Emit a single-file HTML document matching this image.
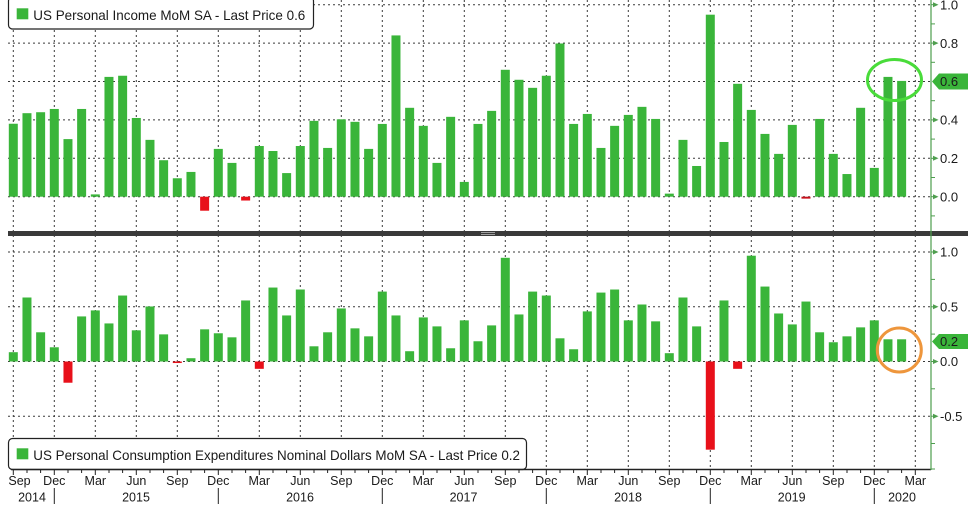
<!DOCTYPE html>
<html><head><meta charset="utf-8"><style>
html,body{margin:0;padding:0;background:#fff;}
svg{display:block;font-family:"Liberation Sans",Arial,sans-serif;}
</style></head><body>
<svg width="976" height="507" viewBox="0 0 976 507" xmlns="http://www.w3.org/2000/svg">
<rect x="0" y="0" width="976" height="507" fill="#fff"/>
<g stroke="#3a3a3a" stroke-width="1" stroke-dasharray="2 3">
<line x1="13.3" y1="0" x2="13.3" y2="469"/><line x1="54.3" y1="0" x2="54.3" y2="469"/><line x1="95.3" y1="0" x2="95.3" y2="469"/><line x1="136.3" y1="0" x2="136.3" y2="469"/><line x1="177.3" y1="0" x2="177.3" y2="469"/><line x1="218.3" y1="0" x2="218.3" y2="469"/><line x1="259.3" y1="0" x2="259.3" y2="469"/><line x1="300.3" y1="0" x2="300.3" y2="469"/><line x1="341.3" y1="0" x2="341.3" y2="469"/><line x1="382.3" y1="0" x2="382.3" y2="469"/><line x1="423.3" y1="0" x2="423.3" y2="469"/><line x1="464.3" y1="0" x2="464.3" y2="469"/><line x1="505.3" y1="0" x2="505.3" y2="469"/><line x1="546.3" y1="0" x2="546.3" y2="469"/><line x1="587.3" y1="0" x2="587.3" y2="469"/><line x1="628.3" y1="0" x2="628.3" y2="469"/><line x1="669.3" y1="0" x2="669.3" y2="469"/><line x1="710.3" y1="0" x2="710.3" y2="469"/><line x1="751.3" y1="0" x2="751.3" y2="469"/><line x1="792.3" y1="0" x2="792.3" y2="469"/><line x1="833.3" y1="0" x2="833.3" y2="469"/><line x1="874.3" y1="0" x2="874.3" y2="469"/><line x1="915.3" y1="0" x2="915.3" y2="469"/>
<line x1="8" y1="4.7" x2="931" y2="4.7"/><line x1="8" y1="43.1" x2="931" y2="43.1"/><line x1="8" y1="81.5" x2="931" y2="81.5"/><line x1="8" y1="119.9" x2="931" y2="119.9"/><line x1="8" y1="158.3" x2="931" y2="158.3"/><line x1="8" y1="196.7" x2="931" y2="196.7"/>
<line x1="8" y1="252" x2="931" y2="252"/><line x1="8" y1="306.8" x2="931" y2="306.8"/><line x1="8" y1="361.5" x2="931" y2="361.5"/><line x1="8" y1="416.2" x2="931" y2="416.2"/>
</g>
<g transform="translate(0 196.7) scale(1 -192)" fill="#3ab53a">
<rect x="8.8" y="0" width="9" height="0.38"/>
<rect x="22.47" y="0" width="9" height="0.435"/>
<rect x="36.13" y="0" width="9" height="0.44"/>
<rect x="49.8" y="0" width="9" height="0.457"/>
<rect x="63.47" y="0" width="9" height="0.30"/>
<rect x="77.13" y="0" width="9" height="0.457"/>
<rect x="90.8" y="0" width="9" height="0.012"/>
<rect x="104.47" y="0" width="9" height="0.624"/>
<rect x="118.13" y="0" width="9" height="0.63"/>
<rect x="131.8" y="0" width="9" height="0.41"/>
<rect x="145.47" y="0" width="9" height="0.296"/>
<rect x="159.13" y="0" width="9" height="0.19"/>
<rect x="172.8" y="0" width="9" height="0.096"/>
<rect x="186.47" y="0" width="9" height="0.129"/>
<rect x="200.13" y="-0.073" width="9" height="0.073" fill="#e8101a"/>
<rect x="213.8" y="0" width="9" height="0.249"/>
<rect x="227.47" y="0" width="9" height="0.176"/>
<rect x="241.13" y="-0.02" width="9" height="0.02" fill="#e8101a"/>
<rect x="254.8" y="0" width="9" height="0.264"/>
<rect x="268.47" y="0" width="9" height="0.238"/>
<rect x="282.13" y="0" width="9" height="0.123"/>
<rect x="295.8" y="0" width="9" height="0.264"/>
<rect x="309.47" y="0" width="9" height="0.395"/>
<rect x="323.13" y="0" width="9" height="0.254"/>
<rect x="336.8" y="0" width="9" height="0.403"/>
<rect x="350.47" y="0" width="9" height="0.39"/>
<rect x="364.13" y="0" width="9" height="0.249"/>
<rect x="377.8" y="0" width="9" height="0.379"/>
<rect x="391.47" y="0" width="9" height="0.84"/>
<rect x="405.13" y="0" width="9" height="0.463"/>
<rect x="418.8" y="0" width="9" height="0.369"/>
<rect x="432.47" y="0" width="9" height="0.176"/>
<rect x="446.13" y="0" width="9" height="0.416"/>
<rect x="459.8" y="0" width="9" height="0.077"/>
<rect x="473.47" y="0" width="9" height="0.379"/>
<rect x="487.13" y="0" width="9" height="0.447"/>
<rect x="500.8" y="0" width="9" height="0.661"/>
<rect x="514.47" y="0" width="9" height="0.609"/>
<rect x="528.13" y="0" width="9" height="0.567"/>
<rect x="541.8" y="0" width="9" height="0.63"/>
<rect x="555.47" y="0" width="9" height="0.798"/>
<rect x="569.13" y="0" width="9" height="0.379"/>
<rect x="582.8" y="0" width="9" height="0.431"/>
<rect x="596.47" y="0" width="9" height="0.254"/>
<rect x="610.13" y="0" width="9" height="0.369"/>
<rect x="623.8" y="0" width="9" height="0.426"/>
<rect x="637.47" y="0" width="9" height="0.468"/>
<rect x="651.13" y="0" width="9" height="0.405"/>
<rect x="664.8" y="0" width="9" height="0.016"/>
<rect x="678.47" y="0" width="9" height="0.296"/>
<rect x="692.13" y="0" width="9" height="0.16"/>
<rect x="705.8" y="0" width="9" height="0.948"/>
<rect x="719.47" y="0" width="9" height="0.285"/>
<rect x="733.13" y="0" width="9" height="0.588"/>
<rect x="746.8" y="0" width="9" height="0.452"/>
<rect x="760.47" y="0" width="9" height="0.327"/>
<rect x="774.13" y="0" width="9" height="0.223"/>
<rect x="787.8" y="0" width="9" height="0.374"/>
<rect x="801.47" y="-0.01" width="9" height="0.01" fill="#c8101a"/>
<rect x="815.13" y="0" width="9" height="0.405"/>
<rect x="828.8" y="0" width="9" height="0.223"/>
<rect x="842.47" y="0" width="9" height="0.118"/>
<rect x="856.13" y="0" width="9" height="0.463"/>
<rect x="869.8" y="0" width="9" height="0.15"/>
<rect x="883.47" y="0" width="9" height="0.624"/>
<rect x="897.13" y="0" width="9" height="0.603"/>
</g>
<g transform="translate(0 361.5) scale(1 -109.4)" fill="#3ab53a">
<rect x="8.8" y="0" width="9" height="0.085"/>
<rect x="22.47" y="0" width="9" height="0.585"/>
<rect x="36.13" y="0" width="9" height="0.267"/>
<rect x="49.8" y="0" width="9" height="0.13"/>
<rect x="63.47" y="-0.194" width="9" height="0.194" fill="#e8101a"/>
<rect x="77.13" y="0" width="9" height="0.412"/>
<rect x="90.8" y="0" width="9" height="0.467"/>
<rect x="104.47" y="0" width="9" height="0.348"/>
<rect x="118.13" y="0" width="9" height="0.603"/>
<rect x="131.8" y="0" width="9" height="0.285"/>
<rect x="145.47" y="0" width="9" height="0.503"/>
<rect x="159.13" y="0" width="9" height="0.248"/>
<rect x="172.8" y="-0.014" width="9" height="0.014" fill="#e8101a"/>
<rect x="186.47" y="0" width="9" height="0.03"/>
<rect x="200.13" y="0" width="9" height="0.294"/>
<rect x="213.8" y="0" width="9" height="0.258"/>
<rect x="227.47" y="0" width="9" height="0.221"/>
<rect x="241.13" y="0" width="9" height="0.558"/>
<rect x="254.8" y="-0.067" width="9" height="0.067" fill="#e8101a"/>
<rect x="268.47" y="0" width="9" height="0.676"/>
<rect x="282.13" y="0" width="9" height="0.421"/>
<rect x="295.8" y="0" width="9" height="0.658"/>
<rect x="309.47" y="0" width="9" height="0.139"/>
<rect x="323.13" y="0" width="9" height="0.267"/>
<rect x="336.8" y="0" width="9" height="0.485"/>
<rect x="350.47" y="0" width="9" height="0.303"/>
<rect x="364.13" y="0" width="9" height="0.23"/>
<rect x="377.8" y="0" width="9" height="0.639"/>
<rect x="391.47" y="0" width="9" height="0.421"/>
<rect x="405.13" y="0" width="9" height="0.094"/>
<rect x="418.8" y="0" width="9" height="0.403"/>
<rect x="432.47" y="0" width="9" height="0.321"/>
<rect x="446.13" y="0" width="9" height="0.121"/>
<rect x="459.8" y="0" width="9" height="0.376"/>
<rect x="473.47" y="0" width="9" height="0.185"/>
<rect x="487.13" y="0" width="9" height="0.33"/>
<rect x="500.8" y="0" width="9" height="0.948"/>
<rect x="514.47" y="0" width="9" height="0.43"/>
<rect x="528.13" y="0" width="9" height="0.639"/>
<rect x="541.8" y="0" width="9" height="0.603"/>
<rect x="555.47" y="0" width="9" height="0.212"/>
<rect x="569.13" y="0" width="9" height="0.112"/>
<rect x="582.8" y="0" width="9" height="0.458"/>
<rect x="596.47" y="0" width="9" height="0.63"/>
<rect x="610.13" y="0" width="9" height="0.658"/>
<rect x="623.8" y="0" width="9" height="0.376"/>
<rect x="637.47" y="0" width="9" height="0.521"/>
<rect x="651.13" y="0" width="9" height="0.367"/>
<rect x="664.8" y="0" width="9" height="0.076"/>
<rect x="678.47" y="0" width="9" height="0.585"/>
<rect x="692.13" y="0" width="9" height="0.321"/>
<rect x="705.8" y="-0.806" width="9" height="0.806" fill="#e8101a"/>
<rect x="719.47" y="0" width="9" height="0.558"/>
<rect x="733.13" y="-0.067" width="9" height="0.067" fill="#e8101a"/>
<rect x="746.8" y="0" width="9" height="0.967"/>
<rect x="760.47" y="0" width="9" height="0.685"/>
<rect x="774.13" y="0" width="9" height="0.439"/>
<rect x="787.8" y="0" width="9" height="0.339"/>
<rect x="801.47" y="0" width="9" height="0.548"/>
<rect x="815.13" y="0" width="9" height="0.267"/>
<rect x="828.8" y="0" width="9" height="0.176"/>
<rect x="842.47" y="0" width="9" height="0.23"/>
<rect x="856.13" y="0" width="9" height="0.312"/>
<rect x="869.8" y="0" width="9" height="0.376"/>
<rect x="883.47" y="0" width="9" height="0.203"/>
<rect x="897.13" y="0" width="9" height="0.203"/>
</g>
<rect x="8" y="231" width="960" height="5" fill="#3a3a3a"/>
<line x1="481" y1="232.6" x2="495" y2="232.6" stroke="#bbb" stroke-width="0.8"/>
<line x1="481" y1="234.4" x2="495" y2="234.4" stroke="#bbb" stroke-width="0.8"/>
<rect x="8.5" y="-3" width="305" height="32" rx="4" ry="4" fill="#fff" stroke="#222" stroke-width="1.2"/>
<rect x="16.7" y="8.3" width="11.6" height="11" fill="#3ab53a"/>
<text x="33.3" y="20" font-size="14" fill="#1a1a1a" textLength="272" lengthAdjust="spacingAndGlyphs">US Personal Income MoM SA - Last Price 0.6</text>
<rect x="8.5" y="438.5" width="518" height="31" rx="4" ry="4" fill="#fff" stroke="#222" stroke-width="1.2"/>
<rect x="16.7" y="448.3" width="11.6" height="11" fill="#3ab53a"/>
<text x="33.3" y="460" font-size="14" fill="#1a1a1a" textLength="486.7" lengthAdjust="spacingAndGlyphs">US Personal Consumption Expenditures Nominal Dollars MoM SA - Last Price 0.2</text>
<line x1="11" y1="469.5" x2="931" y2="469.5" stroke="#222" stroke-width="1.5"/>
<g stroke="#222" stroke-width="1">
<line x1="13.3" y1="469" x2="13.3" y2="475"/><line x1="27" y1="469" x2="27" y2="473"/><line x1="40.6" y1="469" x2="40.6" y2="473"/><line x1="54.3" y1="469" x2="54.3" y2="475"/><line x1="68" y1="469" x2="68" y2="473"/><line x1="81.6" y1="469" x2="81.6" y2="473"/><line x1="95.3" y1="469" x2="95.3" y2="475"/><line x1="109" y1="469" x2="109" y2="473"/><line x1="122.6" y1="469" x2="122.6" y2="473"/><line x1="136.3" y1="469" x2="136.3" y2="475"/><line x1="150" y1="469" x2="150" y2="473"/><line x1="163.6" y1="469" x2="163.6" y2="473"/><line x1="177.3" y1="469" x2="177.3" y2="475"/><line x1="191" y1="469" x2="191" y2="473"/><line x1="204.6" y1="469" x2="204.6" y2="473"/><line x1="218.3" y1="469" x2="218.3" y2="475"/><line x1="232" y1="469" x2="232" y2="473"/><line x1="245.6" y1="469" x2="245.6" y2="473"/><line x1="259.3" y1="469" x2="259.3" y2="475"/><line x1="273" y1="469" x2="273" y2="473"/><line x1="286.6" y1="469" x2="286.6" y2="473"/><line x1="300.3" y1="469" x2="300.3" y2="475"/><line x1="314" y1="469" x2="314" y2="473"/><line x1="327.6" y1="469" x2="327.6" y2="473"/><line x1="341.3" y1="469" x2="341.3" y2="475"/><line x1="355" y1="469" x2="355" y2="473"/><line x1="368.6" y1="469" x2="368.6" y2="473"/><line x1="382.3" y1="469" x2="382.3" y2="475"/><line x1="396" y1="469" x2="396" y2="473"/><line x1="409.6" y1="469" x2="409.6" y2="473"/><line x1="423.3" y1="469" x2="423.3" y2="475"/><line x1="437" y1="469" x2="437" y2="473"/><line x1="450.6" y1="469" x2="450.6" y2="473"/><line x1="464.3" y1="469" x2="464.3" y2="475"/><line x1="478" y1="469" x2="478" y2="473"/><line x1="491.6" y1="469" x2="491.6" y2="473"/><line x1="505.3" y1="469" x2="505.3" y2="475"/><line x1="519" y1="469" x2="519" y2="473"/><line x1="532.6" y1="469" x2="532.6" y2="473"/><line x1="546.3" y1="469" x2="546.3" y2="475"/><line x1="560" y1="469" x2="560" y2="473"/><line x1="573.6" y1="469" x2="573.6" y2="473"/><line x1="587.3" y1="469" x2="587.3" y2="475"/><line x1="601" y1="469" x2="601" y2="473"/><line x1="614.6" y1="469" x2="614.6" y2="473"/><line x1="628.3" y1="469" x2="628.3" y2="475"/><line x1="642" y1="469" x2="642" y2="473"/><line x1="655.6" y1="469" x2="655.6" y2="473"/><line x1="669.3" y1="469" x2="669.3" y2="475"/><line x1="683" y1="469" x2="683" y2="473"/><line x1="696.6" y1="469" x2="696.6" y2="473"/><line x1="710.3" y1="469" x2="710.3" y2="475"/><line x1="724" y1="469" x2="724" y2="473"/><line x1="737.6" y1="469" x2="737.6" y2="473"/><line x1="751.3" y1="469" x2="751.3" y2="475"/><line x1="765" y1="469" x2="765" y2="473"/><line x1="778.6" y1="469" x2="778.6" y2="473"/><line x1="792.3" y1="469" x2="792.3" y2="475"/><line x1="806" y1="469" x2="806" y2="473"/><line x1="819.6" y1="469" x2="819.6" y2="473"/><line x1="833.3" y1="469" x2="833.3" y2="475"/><line x1="847" y1="469" x2="847" y2="473"/><line x1="860.6" y1="469" x2="860.6" y2="473"/><line x1="874.3" y1="469" x2="874.3" y2="475"/><line x1="888" y1="469" x2="888" y2="473"/><line x1="901.6" y1="469" x2="901.6" y2="473"/><line x1="915.3" y1="469" x2="915.3" y2="475"/>
<line x1="54.3" y1="488" x2="54.3" y2="504"/><line x1="218.3" y1="488" x2="218.3" y2="504"/><line x1="382.3" y1="488" x2="382.3" y2="504"/><line x1="546.3" y1="488" x2="546.3" y2="504"/><line x1="710.3" y1="488" x2="710.3" y2="504"/><line x1="874.3" y1="488" x2="874.3" y2="504"/>
</g>
<g font-size="12.5" fill="#1a1a1a" text-anchor="middle">
<text x="19.5" y="485">Sep</text><text x="54.3" y="485">Dec</text><text x="95.3" y="485">Mar</text><text x="136.3" y="485">Jun</text><text x="177.3" y="485">Sep</text><text x="218.3" y="485">Dec</text><text x="259.3" y="485">Mar</text><text x="300.3" y="485">Jun</text><text x="341.3" y="485">Sep</text><text x="382.3" y="485">Dec</text><text x="423.3" y="485">Mar</text><text x="464.3" y="485">Jun</text><text x="505.3" y="485">Sep</text><text x="546.3" y="485">Dec</text><text x="587.3" y="485">Mar</text><text x="628.3" y="485">Jun</text><text x="669.3" y="485">Sep</text><text x="710.3" y="485">Dec</text><text x="751.3" y="485">Mar</text><text x="792.3" y="485">Jun</text><text x="833.3" y="485">Sep</text><text x="874.3" y="485">Dec</text><text x="915.3" y="485">Mar</text>
<text x="32" y="501.5">2014</text><text x="136" y="501.5">2015</text><text x="300" y="501.5">2016</text><text x="463.5" y="501.5">2017</text><text x="628" y="501.5">2018</text><text x="791.7" y="501.5">2019</text><text x="902" y="501.5">2020</text>
</g>
<line x1="931" y1="0" x2="931" y2="470" stroke="#4e9e4e" stroke-width="1.2"/>
<g stroke="#4e9e4e" stroke-width="1">
<line x1="931" y1="23.9" x2="935" y2="23.9"/><line x1="931" y1="62.3" x2="935" y2="62.3"/><line x1="931" y1="100.7" x2="935" y2="100.7"/><line x1="931" y1="139.1" x2="935" y2="139.1"/><line x1="931" y1="177.5" x2="935" y2="177.5"/><line x1="931" y1="215.9" x2="935" y2="215.9"/>
<line x1="931" y1="279.4" x2="935" y2="279.4"/><line x1="931" y1="334.1" x2="935" y2="334.1"/><line x1="931" y1="388.8" x2="935" y2="388.8"/><line x1="931" y1="443.5" x2="935" y2="443.5"/><line x1="931" y1="469" x2="935" y2="469"/>
<line x1="931" y1="4.7" x2="934" y2="4.7"/><line x1="931" y1="43.1" x2="934" y2="43.1"/><line x1="931" y1="119.9" x2="934" y2="119.9"/><line x1="931" y1="158.3" x2="934" y2="158.3"/><line x1="931" y1="196.7" x2="934" y2="196.7"/><line x1="931" y1="252" x2="934" y2="252"/><line x1="931" y1="306.8" x2="934" y2="306.8"/><line x1="931" y1="361.5" x2="934" y2="361.5"/><line x1="931" y1="416.2" x2="934" y2="416.2"/>
</g>
<g fill="#4e9e4e">
<polygon points="933,2.2 938.5,4.7 933,7.2"/><polygon points="933,40.6 938.5,43.1 933,45.6"/><polygon points="933,117.4 938.5,119.9 933,122.4"/><polygon points="933,155.8 938.5,158.3 933,160.8"/><polygon points="933,194.2 938.5,196.7 933,199.2"/>
<polygon points="933,249.5 938.5,252 933,254.5"/><polygon points="933,304.3 938.5,306.8 933,309.3"/><polygon points="933,359 938.5,361.5 933,364"/><polygon points="933,413.7 938.5,416.2 933,418.7"/>
</g>
<polygon points="932,81.5 939,73.5 968,73.5 968,89.5 939,89.5" fill="#3ab53a"/>
<polygon points="932,341.5 939,334 968,334 968,349 939,349" fill="#3ab53a"/>
<g font-size="13" fill="#1a1a1a">
<text x="940" y="9.5">1.0</text><text x="940" y="47.8">0.8</text><text x="940" y="86.2">0.6</text><text x="940" y="124.6">0.4</text><text x="940" y="163">0.2</text><text x="940" y="201.4">0.0</text>
<text x="940" y="256.7">1.0</text><text x="940" y="311.5">0.5</text><text x="940" y="346.2">0.2</text><text x="940" y="366.2">0.0</text><text x="940" y="420.9">-0.5</text>
</g>
<ellipse cx="894.5" cy="80" rx="27" ry="20.5" fill="none" stroke="#49dc3a" stroke-width="3"/>
<circle cx="899.3" cy="350" r="22" fill="none" stroke="#ee963c" stroke-width="3"/>
</svg>
</body></html>
